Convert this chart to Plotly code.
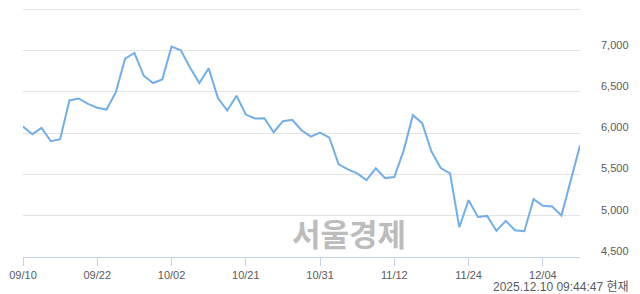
import plotly.graph_objects as go

dates = ["09/10","09/11","09/12","09/15","09/16","09/17","09/18","09/19","09/22","09/23",
         "09/24","09/25","09/26","09/29","09/30","10/01","10/02","10/10","10/13","10/14",
         "10/15","10/16","10/17","10/20","10/21","10/22","10/23","10/24","10/27","10/28",
         "10/29","10/30","10/31","11/03","11/04","11/05","11/06","11/07","11/10","11/11",
         "11/12","11/13","11/14","11/17","11/18","11/19","11/20","11/21","11/24","11/25",
         "11/26","11/27","11/28","12/01","12/02","12/03","12/04","12/05","12/08","12/09",
         "12/10"]
prices = [6080, 5988, 6065, 5903, 5927, 6397, 6421, 6356, 6308, 6287,
          6498, 6903, 6973, 6697, 6608, 6652, 7049, 7004, 6793, 6608,
          6786, 6426, 6275, 6454, 6226, 6178, 6182, 6012, 6146, 6162,
          6036, 5959, 6008, 5947, 5623, 5562, 5514, 5432, 5574, 5456,
          5468, 5789, 6219, 6122, 5777, 5578, 5514, 4861, 5189, 4986,
          4998, 4816, 4938, 4825, 4812, 5201, 5120, 5112, 5003, 5440,
          5850]
x_ticks = ["09/10","09/22","10/02","10/21","10/31","11/12","11/24","12/04"]
y_ticks = [4500, 5000, 5500, 6000, 6500, 7000, 7500]
y_labels = ["4,500", "5,000", "5,500", "6,000", "6,500", "7,000", ""]
watermark = "서울경제"
timestamp = "2025.12.10 09:44:47 현재"

fig = go.Figure()
fig.add_trace(go.Scatter(x=dates, y=prices, mode="lines",
                         line=dict(color="#72aee8", width=2),
                         hoverinfo="skip"))

fig.update_layout(
    width=640, height=294,
    margin=dict(l=10, r=60, t=9, b=37),
    paper_bgcolor="white", plot_bgcolor="white",
    showlegend=False,
    font=dict(family="Liberation Sans, Arial, sans-serif", size=11, color="#5a5a5a"),
    xaxis=dict(type="category", range=[0, len(dates) - 1],
               tickvals=x_ticks, ticktext=x_ticks,
               showgrid=False, zeroline=False,
               showline=True, linecolor="#c5d0e8", linewidth=1,
               ticks="outside", ticklen=8, tickcolor="#c5d0e8", tickwidth=1,
               tickfont=dict(size=11, color="#5a5a5a")),
    yaxis=dict(range=[4500, 7505], side="right",
               tickvals=y_ticks, ticktext=y_labels,
               showgrid=True, gridcolor="#e3e3e3", gridwidth=1,
               zeroline=False, showline=False, ticks="",
               ticklabelshift=-6, ticklabelstandoff=20,
               tickfont=dict(size=11, color="#5a5a5a")),
)

# top gridline (plotly drops gridlines at the very edge of the range)
fig.add_shape(type="line", xref="paper", yref="y", x0=0, x1=1,
              y0=y_ticks[-1], y1=y_ticks[-1],
              line=dict(color="#e3e3e3", width=1), layer="below")

fig.add_annotation(text=watermark, xref="paper", yref="paper",
                   x=0.586, y=0.10, xanchor="center", yanchor="middle",
                   showarrow=False,
                   font=dict(family="Noto Sans CJK KR", size=31, color="#bcbcbc", weight="bold"))
fig.add_annotation(text=timestamp, xref="paper", yref="paper",
                   x=1.0912, y=-0.1225, xanchor="right", yanchor="middle",
                   showarrow=False,
                   font=dict(family="Liberation Sans, Noto Sans CJK KR, sans-serif", size=12, color="#5a5a5a"))

fig.write_html("out.html")
